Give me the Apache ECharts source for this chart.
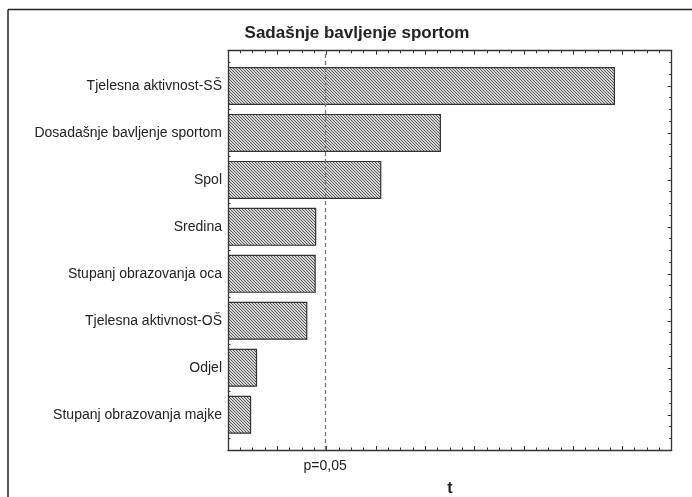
<!DOCTYPE html>
<html>
<head>
<meta charset="utf-8">
<script src="https://cdn.jsdelivr.net/npm/echarts@6/dist/echarts.min.js"></script>
<style>
html,body{margin:0;padding:0;background:#fff;}
#chart{width:692px;height:497px;}
</style>
</head>
<body>
<div id="chart"></div>
<script>
// ---- data ----
const titleText = 'Sadašnje bavljenje sportom';
const categories = [
  'Tjelesna aktivnost-SŠ',
  'Dosadašnje bavljenje sportom',
  'Spol',
  'Sredina',
  'Stupanj obrazovanja oca',
  'Tjelesna aktivnost-OŠ',
  'Odjel',
  'Stupanj obrazovanja majke'
];
const tValues = [7.85, 4.32, 3.11, 1.79, 1.78, 1.61, 0.59, 0.47];
const criticalT = 1.97;
const criticalLabel = 'p=0,05';
const axisName = 't';
const xMin = 0, xMax = 9, xStep = 1;

// ---- hatch pattern ----
function makeHatch() {
  const c = document.createElement('canvas');
  c.width = 3; c.height = 3;
  const g = c.getContext('2d');
  g.fillStyle = '#d6d6d6';
  g.fillRect(0, 0, 3, 3);
  g.fillStyle = '#5a5a5a';
  for (let i = 0; i < 3; i++) g.fillRect(i, i, 1, 1);
  return c;
}

const FONT = 'Liberation Sans, Arial, sans-serif';
const plotLeft = 228, plotTop = 50.7, plotW = 443.7, plotH = 399.3;
const unit = plotH / 8.5;

const chart = echarts.init(document.getElementById('chart'), null, {renderer: 'canvas'});

const tickStyle = {color: '#333', width: 1};
const lineStyle = {color: '#333', width: 1.3};

const option = {
  backgroundColor: '#fff',
  animation: false,
  title: {
    text: titleText,
    left: 352,
    textAlign: 'center',
    top: 20,
    textStyle: {fontFamily: FONT, fontSize: 17, fontWeight: 'bold', color: '#222'}
  },
  graphic: [
    {type: 'line', shape: {x1: 8, y1: 9.5, x2: 692, y2: 9.5}, style: {stroke: '#222', lineWidth: 1.5}, silent: true},
    {type: 'line', shape: {x1: 8, y1: 9.5, x2: 8, y2: 497}, style: {stroke: '#222', lineWidth: 1.5}, silent: true}
  ],
  grid: [
    {left: plotLeft, top: plotTop + 0.25 * unit, width: plotW, height: 8 * unit, containLabel: false, outerBoundsMode: 'none'},
    {left: plotLeft, top: plotTop, width: plotW, height: plotH, containLabel: false, outerBoundsMode: 'none'}
  ],
  xAxis: [
    {gridIndex: 0, type: 'value', min: xMin, max: xMax, interval: xStep, show: false},
    {gridIndex: 1, type: 'value', min: xMin, max: xMax, interval: xStep, position: 'bottom',
     axisLine: {show: true, onZero: false, lineStyle: lineStyle},
     axisTick: {show: true, inside: true, length: 4, lineStyle: tickStyle},
     minorTick: {show: true, splitNumber: 4, length: 2.5, lineStyle: tickStyle},
     axisLabel: {show: false}, splitLine: {show: false},
     name: axisName, nameLocation: 'middle', nameGap: 31,
     nameTextStyle: {fontFamily: FONT, fontSize: 16, fontWeight: 'bold', color: '#222'}},
    {gridIndex: 1, type: 'value', min: xMin, max: xMax, interval: xStep, position: 'top',
     axisLine: {show: true, onZero: false, lineStyle: lineStyle},
     axisTick: {show: true, inside: true, length: 4, lineStyle: tickStyle},
     minorTick: {show: true, splitNumber: 4, length: 2.5, lineStyle: tickStyle},
     axisLabel: {show: false}, splitLine: {show: false}}
  ],
  yAxis: [
    {gridIndex: 0, type: 'category', data: categories, inverse: true, position: 'left',
     axisLine: {show: false, onZero: false},
     axisTick: {show: true, inside: true, alignWithLabel: true, length: 4, lineStyle: tickStyle},
     axisLabel: {show: true, margin: 6, fontFamily: FONT, fontSize: 14, color: '#222'},
     splitLine: {show: false}},
    {gridIndex: 0, type: 'category', data: categories, inverse: true, position: 'right',
     axisLine: {show: false, onZero: false},
     axisTick: {show: true, inside: true, alignWithLabel: true, length: 4, lineStyle: tickStyle},
     axisLabel: {show: false}, splitLine: {show: false}},
    {gridIndex: 1, type: 'value', min: 0, max: 8.5, interval: 0.25, position: 'left',
     axisLine: {show: true, onZero: false, lineStyle: lineStyle},
     axisTick: {show: true, inside: true, length: 2.5, lineStyle: tickStyle},
     axisLabel: {show: false}, splitLine: {show: false}},
    {gridIndex: 1, type: 'value', min: 0, max: 8.5, interval: 0.25, position: 'right',
     axisLine: {show: true, onZero: false, lineStyle: lineStyle},
     axisTick: {show: true, inside: true, length: 2.5, lineStyle: tickStyle},
     axisLabel: {show: false}, splitLine: {show: false}}
  ],
  series: [
    {
      type: 'bar', xAxisIndex: 0, yAxisIndex: 0,
      data: tValues, barWidth: 38,
      itemStyle: {color: {image: makeHatch(), repeat: 'repeat'}, borderColor: '#333', borderWidth: 1.2},
      emphasis: {disabled: true}, silent: true
    },
    {
      type: 'line', xAxisIndex: 1, yAxisIndex: 2, data: [],
      markLine: {
        silent: true, symbol: 'none', animation: false,
        lineStyle: {type: [4, 3], color: '#777', width: 1.3},
        label: {show: true, position: 'start', distance: 9, formatter: criticalLabel,
                fontFamily: FONT, fontSize: 14, color: '#222'},
        data: [{xAxis: criticalT}]
      }
    }
  ]
};
chart.setOption(option);
</script>
</body>
</html>
